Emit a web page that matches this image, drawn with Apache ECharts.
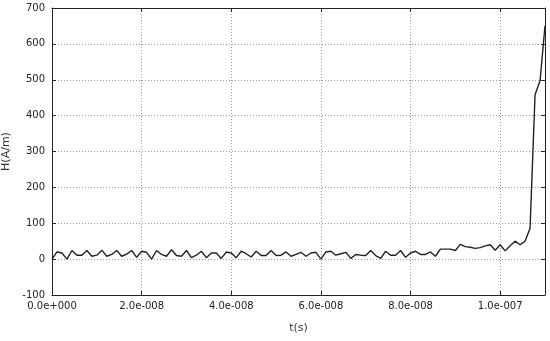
<!DOCTYPE html>
<html>
<head>
<meta charset="utf-8">
<script src="https://cdn.jsdelivr.net/npm/echarts@6/dist/echarts.min.js"></script>
<style>
  html, body { margin: 0; padding: 0; background: #fff; }
  #chart { width: 550px; height: 341px; }
</style>
</head>
<body>
<div id="chart"></div>
<script>
// H(A/m) samples, evenly spaced in time
const hValues = [
  0, 20, 17, 0, 24, 11, 11, 24, 8, 11,
  25, 8, 13, 24, 8, 14, 24, 5, 22, 19,
  0, 24, 13, 8, 26, 10, 8, 24, 4, 11,
  22, 4, 17, 17, 2, 20, 17, 4, 22, 15,
  6, 22, 10, 10, 24, 10, 11, 20, 8, 13,
  19, 8, 17, 19, 0, 20, 22, 11, 15, 19,
  2, 13, 11, 10, 24, 10, 2, 22, 11, 11,
  24, 5, 17, 22, 13, 13, 20, 8, 28, 28,
  28, 24, 41, 35, 33, 30, 32, 37, 40, 25,
  40, 23, 37, 50, 40, 50, 86, 458, 497, 650
];
const tEnd = 1.1e-7;           // last sample time (s)
const dt = tEnd / (hValues.length - 1);
const xTicks = [0, 2e-8, 4e-8, 6e-8, 8e-8, 1e-7];
const yTicks = [-100, 0, 100, 200, 300, 400, 500, 600, 700];

const points = hValues.map((h, i) => [i * dt, h]);

// C-style exponent: 2.0e-008
function fmtExp(v) {
  let s = v.toExponential(1);
  let m = s.match(/^(-?[\d.]+)e([+-])(\d+)$/);
  return m[1] + 'e' + m[2] + m[3].padStart(3, '0');
}

const labelFont = { color: '#222', fontSize: 10, fontFamily: 'DejaVu Sans' };
const gridLine = { show: true, lineStyle: { color: '#9a9a9a', type: [1, 2], width: 1 } };
const axisLine = { show: true, onZero: false, lineStyle: { color: '#222', width: 1 } };
const tick = { show: true, inside: true, length: 4, lineStyle: { color: '#222' } };

let chart = echarts.init(document.getElementById('chart'));
chart.setOption({
  animation: false,
  grid: { left: 52, right: 5, top: 8, bottom: 46, outerBoundsMode: 'none', containLabel: false },
  xAxis: [
    {
      type: 'value',
      min: 0,
      max: tEnd,
      interval: 2e-8,
      name: 't(s)',
      nameLocation: 'middle',
      nameGap: 28,
      nameTextStyle: { color: '#333', fontSize: 11, fontFamily: 'DejaVu Sans' },
      axisLine: axisLine,
      axisTick: tick,
      axisLabel: Object.assign({
        margin: 6,
        showMaxLabel: false,
        formatter: function (v) {
          let hit = xTicks.some(t => Math.abs(t - v) < 1e-12);
          return hit ? fmtExp(v) : '';
        }
      }, labelFont),
      splitLine: gridLine
    },
    {
      type: 'value',
      position: 'top',
      min: 0,
      max: tEnd,
      interval: 2e-8,
      axisLine: axisLine,
      axisTick: tick,
      axisLabel: { show: false },
      splitLine: { show: false }
    }
  ],
  yAxis: [
    {
      type: 'value',
      min: yTicks[0],
      max: yTicks[yTicks.length - 1],
      interval: 100,
      name: 'H(A/m)',
      nameLocation: 'middle',
      nameGap: 35,
      nameRotate: 90,
      nameTextStyle: { color: '#333', fontSize: 11, fontFamily: 'DejaVu Sans' },
      axisLine: axisLine,
      axisTick: tick,
      axisLabel: Object.assign({ margin: 7 }, labelFont),
      splitLine: gridLine
    },
    {
      type: 'value',
      position: 'right',
      min: yTicks[0],
      max: yTicks[yTicks.length - 1],
      interval: 100,
      axisLine: axisLine,
      axisTick: tick,
      axisLabel: { show: false },
      splitLine: { show: false }
    }
  ],
  series: [
    {
      type: 'line',
      data: points,
      showSymbol: false,
      symbol: 'none',
      lineStyle: { color: '#222', width: 1.4 },
      clip: true
    }
  ]
});
</script>
</body>
</html>
